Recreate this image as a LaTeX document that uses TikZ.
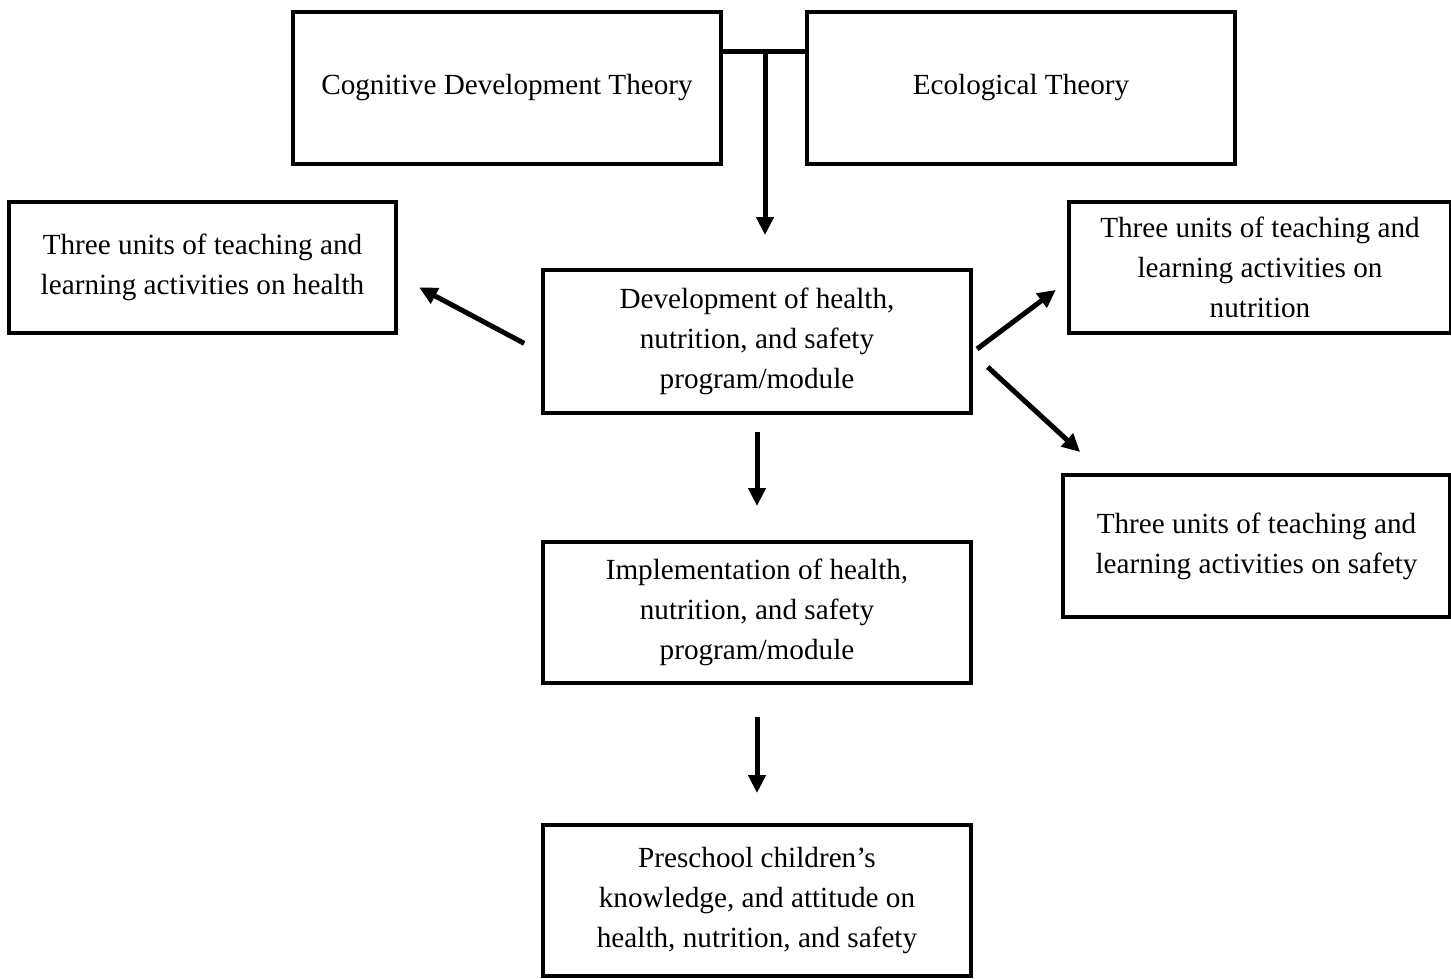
\documentclass[tikz,border=0pt]{standalone}
\usepackage{fontspec}
\setmainfont{Liberation Serif}
\usetikzlibrary{arrows.meta,positioning}
\tikzset{
  >={Triangle[length=9pt,width=8.5pt]},
  pbox/.style={draw=black, line width=2pt, align=center, inner sep=4pt,
               font=\fontsize{14.6}{20}\selectfont},
  parr/.style={->, line width=2.5pt},
}
\begin{document}
\begin{tikzpicture}[x=0.5pt,y=-0.5pt]
  \useasboundingbox (0,0) rectangle (1451,979);

  % theories
  \node[pbox, minimum width=214pt, minimum height=76pt] (cog) at (507,88)
    {Cognitive Development Theory};
  \node[pbox, minimum width=214pt, minimum height=76pt] (eco) at (1021,88)
    {Ecological Theory};

  % module
  \node[pbox, minimum width=214pt, minimum height=71.5pt] (dev) at (757,341.5)
    {Development of health,\\ nutrition, and safety\\ program/module};

  % units
  \node[pbox, minimum width=193.5pt, minimum height=65.5pt] (health) at (202.5,267.5)
    {Three units of teaching and\\ learning activities on health};
  \node[pbox, minimum width=191pt, minimum height=65.5pt] (nutr) at (1260,267.5)
    {Three units of teaching and\\ learning activities on\\ nutrition};
  \node[pbox, minimum width=193.5pt, minimum height=71pt] (safe) at (1256.5,546)
    {Three units of teaching and\\ learning activities on safety};

  % implementation and outcome
  \node[pbox, minimum width=214pt, minimum height=70.5pt] (impl) at (757,612.5)
    {Implementation of health,\\ nutrition, and safety\\ program/module};
  \node[pbox, minimum width=214pt, minimum height=75.5pt] (pres) at (757,900.5)
    {Preschool children’s\\ knowledge, and attitude on\\ health, nutrition, and safety};

  % connectors
  \coordinate (tj) at (765,52);
  \draw[line width=2.5pt] (cog.east |- tj) -- (eco.west |- tj);
  \draw[parr, shorten >=16.5pt] (tj) -- (tj |- dev.north);
  \draw[parr, shorten <=9.5pt, shorten >=12pt]
    ([yshift=-5.4pt]dev.west) -- ([yshift=-4.35pt]health.east);
  \draw[parr, shorten <=2.5pt, shorten >=7pt]
    ([yshift=-5.25pt]dev.east) -- ([yshift=-7pt]nutr.west);
  \draw[parr, shorten <=10pt, shorten >=15.5pt]
    ([yshift=-6pt]dev.east) -- ([xshift=21pt]safe.north west);
  \draw[parr, shorten <=8.5pt, shorten >=17pt] (dev) -- (impl);
  \draw[parr, shorten <=16pt, shorten >=15pt] (impl) -- (pres);

\end{tikzpicture}
\end{document}
